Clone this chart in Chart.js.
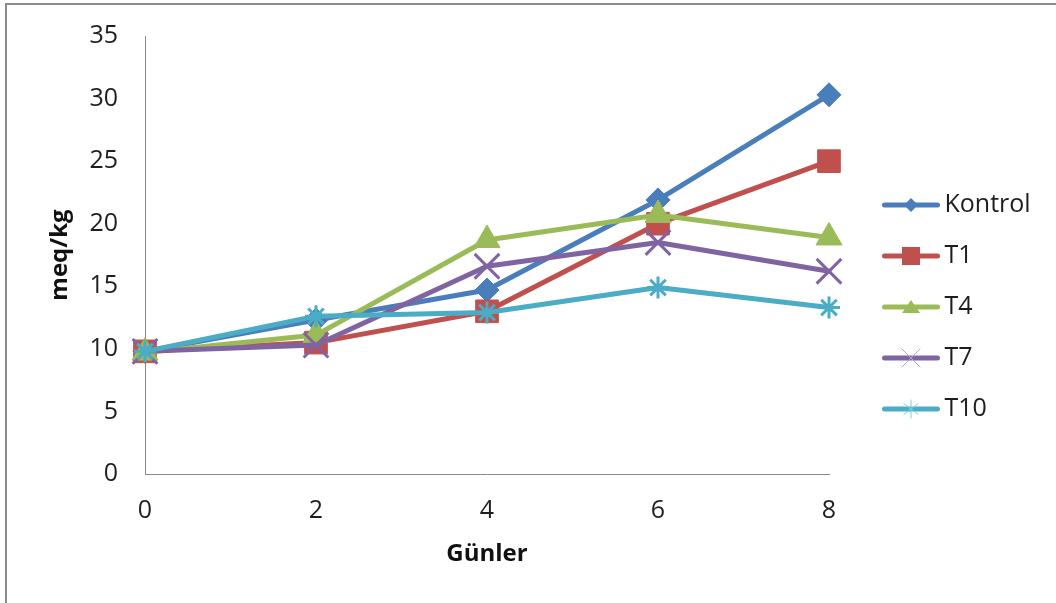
<!DOCTYPE html>
<html>
<head>
<meta charset="utf-8">
<script src="https://cdn.jsdelivr.net/npm/chart.js@4.4.0/dist/chart.umd.min.js"></script>
<style>
  html, body { margin: 0; padding: 0; background: #fff; }
  canvas { display: block; }
</style>
</head>
<body>
<canvas id="chart" width="1056" height="603"></canvas>
<script>
// Sampling days and measured values (meq/kg)
const days = ['0', '2', '4', '6', '8'];
const kontrol = [9.8, 12.3, 14.7, 21.9, 30.3];
const t1 = [9.8, 10.5, 13.0, 20.0, 25.0];
const t4 = [9.7, 11.1, 18.7, 20.7, 18.9];
const t7 = [9.8, 10.3, 16.6, 18.5, 16.2];
const t10 = [9.8, 12.6, 12.9, 14.9, 13.3];
const seriesNames = ['Kontrol', 'T1', 'T4', 'T7', 'T10'];
const yMin = 0, yMax = 35, yStep = 5;

const FONT = '"Open Sans", "DejaVu Sans", sans-serif';
const TEXT = '#1e1e1e';
const AXIS = '#8a8a8a';

const colors = ['#4A7EBB', '#C0504D', '#9BBB59', '#8064A2', '#4BACC6'];
const legendMarkColors = ['#4A7EBB', '#C0504D', '#9BBB59', '#B3A2C7', '#7FCDE0'];
const styles = ['rectRot', 'rect', 'triangle', 'crossRot', 'star'];
const radii = [12, 16, 15, 17.5, 11];
const markWidths = [1, 1, 1, 3, 3];
const values = [kontrol, t1, t4, t7, t10];

// Legend key: a short line with the series marker on it
const KEY_W = 93, KEY_H = 30;
function makeKey(i) {
  const c = document.createElement('canvas');
  c.width = KEY_W; c.height = KEY_H;
  const g = c.getContext('2d');
  const cy = KEY_H / 2, cx = 64;
  g.strokeStyle = colors[i];
  g.lineWidth = 5;
  g.lineCap = 'round';
  g.beginPath(); g.moveTo(37.5, cy); g.lineTo(90.5, cy); g.stroke();
  const mc = legendMarkColors[i];
  g.fillStyle = mc; g.strokeStyle = mc; g.lineWidth = 1;
  g.beginPath();
  if (i === 0) {
    const r = 7;
    g.moveTo(cx - r, cy); g.lineTo(cx, cy - r); g.lineTo(cx + r, cy); g.lineTo(cx, cy + r);
    g.closePath(); g.fill();
  } else if (i === 1) {
    g.fillRect(cx - 9, cy - 9, 18, 18);
  } else if (i === 2) {
    g.moveTo(cx, cy - 7); g.lineTo(cx + 9, cy + 6); g.lineTo(cx - 9, cy + 6);
    g.closePath(); g.fill();
  } else if (i === 3) {
    const r = 9;
    g.moveTo(cx - r, cy - r); g.lineTo(cx + r, cy + r);
    g.moveTo(cx + r, cy - r); g.lineTo(cx - r, cy + r);
    g.stroke();
  } else {
    const r = 9;
    g.moveTo(cx, cy - r); g.lineTo(cx, cy + r);
    g.moveTo(cx - r * 0.8, cy - r * 0.6); g.lineTo(cx + r * 0.8, cy + r * 0.6);
    g.moveTo(cx + r * 0.8, cy - r * 0.6); g.lineTo(cx - r * 0.8, cy + r * 0.6);
    g.stroke();
  }
  return c;
}
const keys = seriesNames.map((_, i) => makeKey(i));

// Legend sizing: keep the plot's right edge fixed next to the legend column
const LEGEND_FONT = 25, LEGEND_PAD = 26, KEY_BOX = 77, PLOT_RIGHT = 829;
const m = document.createElement('canvas').getContext('2d');
m.font = LEGEND_FONT + 'px ' + FONT;
const widest = Math.max(...seriesNames.map(s => m.measureText(s).width));
const legendWidth = LEGEND_PAD + KEY_BOX + LEGEND_FONT / 2 + widest + 10;
const padRight = 1056 - PLOT_RIGHT - legendWidth;

// Outer frame of the chart object
const framePlugin = {
  id: 'frame',
  beforeDraw(chart) {
    const ctx = chart.ctx;
    ctx.save();
    ctx.fillStyle = '#fff';
    ctx.fillRect(0, 0, chart.width, chart.height);
    ctx.fillStyle = '#8c8c8c';
    ctx.fillRect(5, 3, 2, chart.height - 3);
    ctx.fillRect(5, 3, chart.width - 5, 2);
    ctx.restore();
  }
};

const datasets = seriesNames.map((name, i) => ({
  label: name,
  data: values[i],
  borderColor: colors[i],
  backgroundColor: colors[i],
  borderWidth: 5,
  borderCapStyle: 'round',
  borderJoinStyle: 'round',
  tension: 0,
  fill: false,
  clip: false,
  pointStyle: styles[i],
  pointRadius: radii[i],
  pointHoverRadius: radii[i],
  pointBackgroundColor: colors[i],
  pointBorderColor: colors[i],
  pointBorderWidth: markWidths[i],
  order: seriesNames.length - i
}));

new Chart(document.getElementById('chart'), {
  type: 'line',
  data: { labels: days, datasets },
  plugins: [framePlugin],
  options: {
    responsive: false,
    animation: false,
    events: [],
    layout: { padding: { top: 36, left: 0, right: padRight, bottom: 25 } },
    plugins: {
      tooltip: { enabled: false },
      legend: {
        position: 'right',
        align: 'center',
        labels: {
          usePointStyle: true,
          pointStyleWidth: KEY_BOX,
          padding: LEGEND_PAD,
          color: TEXT,
          font: { family: FONT, size: LEGEND_FONT },
          generateLabels(chart) {
            return chart.data.datasets.map((ds, i) => ({
              text: ds.label,
              pointStyle: keys[i],
              fillStyle: colors[i],
              strokeStyle: colors[i],
              lineWidth: 0,
              fontColor: TEXT,
              hidden: false,
              datasetIndex: i
            }));
          }
        }
      }
    },
    scales: {
      x: {
        type: 'category',
        offset: false,
        grid: { display: false, drawTicks: false },
        border: { display: true, color: AXIS, width: 1 },
        ticks: { padding: 22, color: TEXT, font: { family: FONT, size: 25 } },
        title: {
          display: true, text: 'Günler', color: '#111',
          font: { family: FONT, size: 24, weight: 'bold' },
          padding: { top: 0, bottom: 9 }
        },
        afterFit(scale) { scale.height = 104; }
      },
      y: {
        min: yMin, max: yMax,
        grid: { display: false, drawTicks: false },
        border: { display: true, color: AXIS, width: 1 },
        ticks: { stepSize: yStep, padding: 27, color: TEXT, font: { family: FONT, size: 25 } },
        title: {
          display: true, text: 'meq/kg', color: '#111',
          font: { family: FONT, size: 24, weight: 'bold' },
          padding: { top: 45.6, bottom: 0 }
        },
        afterFit(scale) {
          scale.width = 145;
          // only half a label of room is needed above and below the axis
          scale.paddingTop = 15;
          scale.paddingBottom = 15;
        }
      }
    }
  }
});
</script>
</body>
</html>
